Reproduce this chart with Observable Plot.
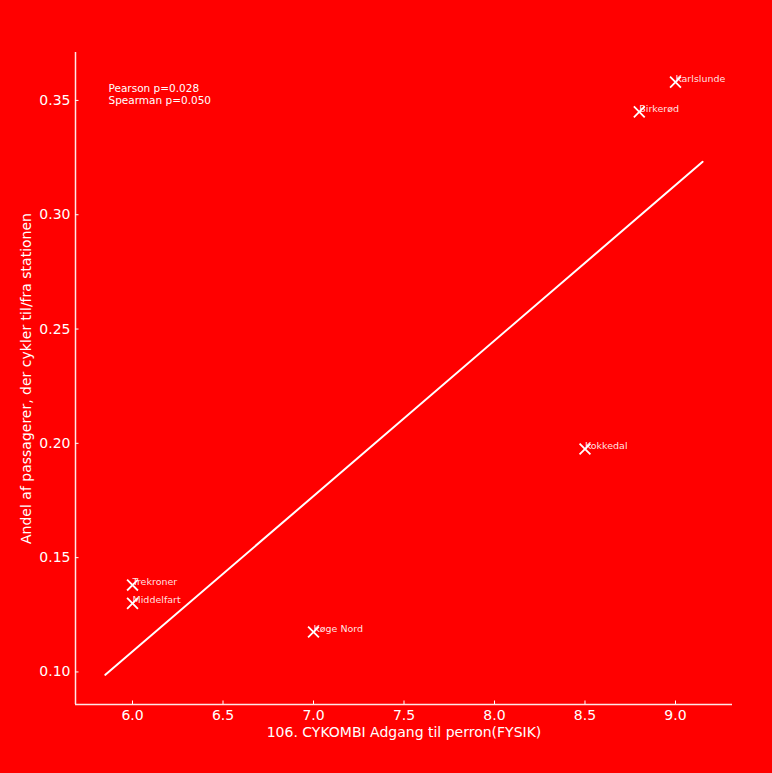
<!DOCTYPE html>
<html>
<head>
<meta charset="utf-8">
<script src="https://cdn.jsdelivr.net/npm/d3@7"></script>
<script src="https://cdn.jsdelivr.net/npm/@observablehq/plot@0.6"></script>
<style>
  html, body { margin: 0; padding: 0; background: #ff0000; }
  #chart svg { display: block; }
</style>
</head>
<body>
<div id="chart"></div>
<script>
const stations = ["Karlslunde", "Birkerød", "Kokkedal", "Trekroner", "Middelfart", "Køge Nord"];
const fysik = [9.0, 8.8, 8.5, 6.0, 6.0, 7.0];
const andel = [0.358, 0.345, 0.1975, 0.138, 0.130, 0.1175];
const xTicks = [6.0, 6.5, 7.0, 7.5, 8.0, 8.5, 9.0];
const yTicks = [0.10, 0.15, 0.20, 0.25, 0.30, 0.35];
const statsText = "Pearson p=0.028\nSpearman p=0.050";
const xLabel = "106. CYKOMBI Adgang til perron(FYSIK)";
const yLabel = "Andel af passagerer, der cykler til/fra stationen";

const data = stations.map((s, i) => ({station: s, x: fysik[i], y: andel[i]}));

// OLS regression
const mx = d3.mean(fysik), my = d3.mean(andel);
const sxy = d3.sum(fysik, (v, i) => (v - mx) * (andel[i] - my));
const sxx = d3.sum(fysik, v => (v - mx) ** 2);
const slope = sxy / sxx, intercept = my - slope * mx;
const [xmin, xmax] = d3.extent(fysik);
const ext = 0.05 * (xmax - xmin);
const lineData = [xmin - ext, xmax + ext].map(x => ({x, y: intercept + slope * x}));

// matplotlib-like 5% margins
const allX = lineData.map(d => d.x).concat(fysik);
const allY = lineData.map(d => d.y).concat(andel);
const [x0, x1] = d3.extent(allX), [y0, y1] = d3.extent(allY);
const xDom = [x0 - 0.05 * (x1 - x0), x1 + 0.05 * (x1 - x0)];
const yDom = [y0 - 0.05 * (y1 - y0), y1 + 0.05 * (y1 - y0)];

const chart = Plot.plot({
  width: 772,
  height: 773,
  marginLeft: 75,
  marginRight: 40,
  marginTop: 52,
  marginBottom: 69,
  style: {background: "#ff0000", color: "white", fontFamily: "DejaVu Sans", fontSize: "14px"},
  x: {domain: xDom},
  y: {domain: yDom},
  marks: [
    Plot.ruleX([xDom[0]], {stroke: "white", strokeWidth: 1.5, strokeOpacity: 0.9}),
    Plot.ruleY([yDom[0]], {stroke: "white", strokeWidth: 1.5, strokeOpacity: 0.9}),
    Plot.axisX({ticks: xTicks, tickFormat: d3.format(".1f"), tickSize: -3.5, tickPadding: 9.5, fontSize: 14,
      label: xLabel, labelAnchor: "center", labelArrow: "none", labelOffset: 32}),
    Plot.axisY({ticks: yTicks, tickFormat: d3.format(".2f"), tickSize: -3.5, tickPadding: 8.5, fontSize: 14,
      label: yLabel, labelAnchor: "center", labelArrow: "none", labelOffset: 54}),
    Plot.line(lineData, {x: "x", y: "y", stroke: "white", strokeWidth: 2}),
    Plot.dot(data, {x: "x", y: "y", symbol: "times", r: 5, stroke: "white", strokeWidth: 1.8}),
    Plot.text(data, {x: "x", y: "y", text: "station", textAnchor: "start", dx: 0, dy: -3, fill: "white", fillOpacity: 0.9, fontSize: 9.5}),
    Plot.text([statsText], {frameAnchor: "top-left", dx: 33, dy: 31, lineAnchor: "top", textAnchor: "start", fill: "white", fontSize: 10.5, lineHeight: 1.12})
  ]
});
document.getElementById("chart").appendChild(chart);
</script>
</body>
</html>
